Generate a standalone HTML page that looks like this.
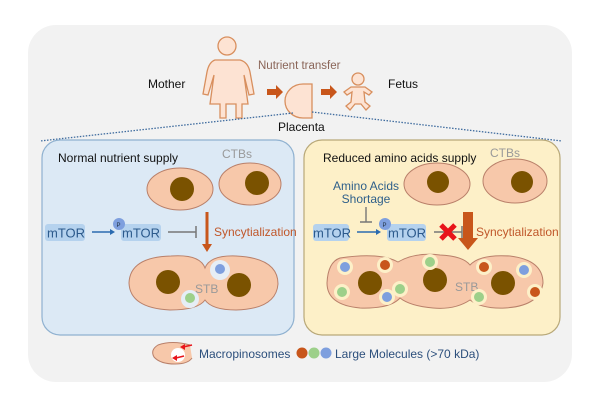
<!DOCTYPE html>
<html><head><meta charset="utf-8"><style>
html,body{margin:0;padding:0;background:#fff;width:600px;height:403px;overflow:hidden}
text{font-family:"Liberation Sans",Arial,sans-serif}
</style></head><body>
<svg width="600" height="403" viewBox="0 0 600 403" xmlns="http://www.w3.org/2000/svg">
<rect x="28" y="25" width="544" height="357" rx="28" fill="#f2f2f2"/>
<!-- top -->
<text x="148" y="88" font-size="12" fill="#111">Mother</text>
<text x="258" y="69" font-size="11.5" fill="#8a6558">Nutrient transfer</text>
<text x="388" y="88" font-size="12" fill="#111">Fetus</text>
<text x="278" y="131" font-size="12" fill="#111">Placenta</text>
<!-- mother -->
<g fill="#fde3d3" stroke="#d88f5e" stroke-width="1.3">
<circle cx="227" cy="46" r="9"/>
<path d="M215 60 L240 60 Q248 62 250 72 L254 94 L249 95 L244 75 L248 104 L242 104 L242 118 L236 118 L236 104 L226 104 L226 118 L220 118 L220 104 L210 104 L214 75 L208 95 L203 94 L207 72 Q209 62 215 60 Z"/>
<!-- placenta -->
<path d="M312 84 L303 84 A18 17 0 0 0 303 118 L312 118 Z"/>
<!-- baby -->
<circle cx="358" cy="79" r="6"/>
<path d="M351 87 L365 87 L372 92 L369 95 L364 92 L365 102 L370 106 L366 110 L361 104 L355 104 L350 110 L346 106 L351 102 L352 92 L347 95 L344 92 Z"/>
</g>
<g fill="#c8561b">
<path d="M267 89 L276 89 L276 85 L283 92 L276 99 L276 95 L267 95 Z"/>
<path d="M321 89 L330 89 L330 85 L337 92 L330 99 L330 95 L321 95 Z"/>
</g>
<g stroke="#3e6b9e" stroke-width="1.3" stroke-dasharray="1.5,1.5" fill="none">
<path d="M293 113 L40 141"/><path d="M312 112 L562 141"/>
</g>
<!-- left panel -->
<rect x="42" y="140" width="252" height="195" rx="18" fill="#dce9f5" stroke="#8fb1d0" stroke-width="1.2"/>
<text x="58" y="162" font-size="12" fill="#111">Normal nutrient supply</text>
<g fill="#f7c8aa" stroke="#b9806a" stroke-width="1"><ellipse cx="180" cy="189" rx="33" ry="21"/><ellipse cx="250" cy="184" rx="31" ry="21"/></g>
<text x="222" y="158" font-size="12" fill="#999">CTBs</text>
<g fill="#7a5200"><circle cx="182" cy="189" r="12"/><circle cx="257" cy="183" r="12"/></g>
<rect x="45" y="224" width="40" height="17" rx="3" fill="#b5d2ee"/>
<text x="47" y="237.5" font-size="13" fill="#2c5a8c">mTOR</text>
<path d="M92 232 L110 232" stroke="#2b6bb0" stroke-width="1.4"/><path d="M110 229 L115 232 L110 235Z" fill="#2b6bb0"/>
<rect x="121" y="224" width="40" height="17" rx="3" fill="#b5d2ee"/>
<text x="122" y="237.5" font-size="13" fill="#2c5a8c">mTOR</text>
<circle cx="119" cy="224" r="6" fill="#7e9fde"/><text x="116.5" y="227" font-size="6" fill="#234">P</text>
<path d="M168 232 L196 232 M196 226 L196 238" stroke="#777" stroke-width="1.5"/>
<path d="M207 212 L207 245" stroke="#c8561b" stroke-width="3"/><path d="M202 244 L212 244 L207 252Z" fill="#c8561b"/>
<text x="214" y="236" font-size="12" fill="#c0572a">Syncytialization</text>
<path d="M171 256 Q200 254 205 268 Q210 255 236 256 Q278 258 278 284 Q276 309 236 310 Q212 310 205 300 Q198 310 170 310 Q130 308 129 283 Q130 257 171 256Z" fill="#f7c8aa" stroke="#b9806a"/>
<g fill="#7a5200"><circle cx="168" cy="282" r="12"/><circle cx="239" cy="285" r="12"/></g>
<text x="195" y="293" font-size="12" fill="#999">STB</text>
<circle cx="220" cy="270" r="10" fill="#e6eef6"/><circle cx="220" cy="269" r="5" fill="#7e9fde"/>
<circle cx="190" cy="299" r="9" fill="#e6eef6"/><circle cx="190" cy="298" r="5" fill="#9dd08a"/>
<!-- right panel -->
<rect x="304" y="140" width="256" height="195" rx="18" fill="#fdf0c8" stroke="#b8a878" stroke-width="1.2"/>
<text x="323" y="162" font-size="12" fill="#111">Reduced amino acids supply</text>
<g fill="#f7c8aa" stroke="#b9806a" stroke-width="1"><ellipse cx="437" cy="184" rx="33" ry="21"/><ellipse cx="515" cy="181" rx="32" ry="22"/></g>
<text x="490" y="157" font-size="12" fill="#999">CTBs</text>
<g fill="#7a5200"><circle cx="438" cy="182" r="11"/><circle cx="522" cy="182" r="11"/></g>
<text x="366" y="190" font-size="12" fill="#2e5f8a" text-anchor="middle">Amino Acids</text>
<text x="366" y="203" font-size="12" fill="#2e5f8a" text-anchor="middle">Shortage</text>
<path d="M366 207 L366 222 M360 222 L372 222" stroke="#777" stroke-width="1.4"/>
<rect x="313" y="224" width="36" height="17" rx="3" fill="#b5d2ee"/>
<text x="313" y="237.5" font-size="13" fill="#2c5a8c">mTOR</text>
<path d="M357 232 L376 232" stroke="#2b6bb0" stroke-width="1.4"/><path d="M376 229 L381 232 L376 235Z" fill="#2b6bb0"/>
<rect x="387" y="224" width="39" height="17" rx="3" fill="#b5d2ee"/>
<text x="388" y="237.5" font-size="13" fill="#2c5a8c">mTOR</text>
<circle cx="385" cy="224" r="6" fill="#7e9fde"/><text x="382.5" y="227" font-size="6" fill="#234">P</text>
<path d="M434 232 L462 232 M462 226 L462 238" stroke="#777" stroke-width="1.5"/>
<path d="M441 225 L455 239 M455 225 L441 239" stroke="#e8141a" stroke-width="5"/>
<path d="M463 212 L473 212 L473 238 L478 238 L468 250 L458 238 L463 238Z" fill="#c8561b"/>
<text x="476" y="236" font-size="12" fill="#c0572a">Syncytialization</text>
<path d="M340 258 Q380 252 398 262 Q415 252 440 255 Q463 256 470 265 Q480 254 510 256 Q543 260 543 283 Q540 306 505 308 Q482 309 470 300 Q455 310 433 308 Q410 306 400 298 Q390 309 360 308 Q327 305 327 283 Q328 262 340 258Z" fill="#f7c8aa" stroke="#b9806a"/>
<g fill="#7a5200"><circle cx="370" cy="283" r="12"/><circle cx="435" cy="280" r="12"/><circle cx="503" cy="283" r="12"/></g>
<text x="455" y="291" font-size="12" fill="#999">STB</text>
<g fill="#fdf0c8">
<circle cx="345" cy="267" r="8"/><circle cx="342" cy="292" r="8"/><circle cx="385" cy="265" r="8"/><circle cx="387" cy="297" r="8"/>
<circle cx="400" cy="289" r="8"/><circle cx="430" cy="262" r="8"/><circle cx="479" cy="297" r="8"/><circle cx="484" cy="267" r="8"/>
<circle cx="524" cy="270" r="8"/><circle cx="535" cy="292" r="8"/>
</g>
<circle cx="345" cy="267" r="5" fill="#7e9fde"/><circle cx="342" cy="292" r="5" fill="#9dd08a"/>
<circle cx="385" cy="265" r="5" fill="#c8561b"/><circle cx="387" cy="297" r="5" fill="#7e9fde"/>
<circle cx="400" cy="289" r="5" fill="#9dd08a"/><circle cx="430" cy="262" r="5" fill="#9dd08a"/>
<circle cx="479" cy="297" r="5" fill="#9dd08a"/><circle cx="484" cy="267" r="5" fill="#c8561b"/>
<circle cx="524" cy="270" r="5" fill="#7e9fde"/><circle cx="535" cy="292" r="5" fill="#c8561b"/>
<!-- legend -->
<path d="M190 345 Q172 340 158 345 Q150 350 154 357 Q160 364 175 364 Q188 364 192 358" fill="#f7c8aa" stroke="#b9806a"/>
<circle cx="178" cy="355" r="7" fill="#fff"/>
<path d="M183 347 L192 345" stroke="#e8141a" stroke-width="1.5"/><path d="M180 347 L185 344 L185 350Z" fill="#e8141a"/>
<path d="M176 358 L184 356" stroke="#e8141a" stroke-width="1.5"/><path d="M172 358 L177 355 L177 361Z" fill="#e8141a"/>
<text x="199" y="358" font-size="12" fill="#2c4f7c">Macropinosomes</text>
<circle cx="302" cy="353" r="5.5" fill="#c8561b"/><circle cx="314" cy="353" r="5.5" fill="#9dd08a"/><circle cx="326" cy="353" r="5.5" fill="#7e9fde"/>
<text x="335" y="358" font-size="12" fill="#2c4f7c">Large Molecules (&gt;70 kDa)</text>
</svg>
</body></html>
